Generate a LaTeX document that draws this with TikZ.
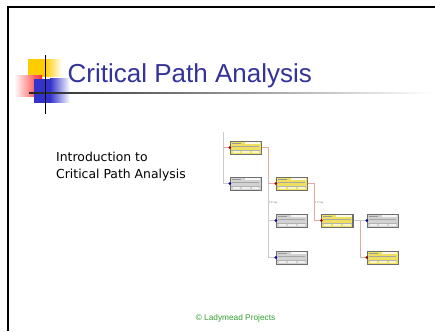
\documentclass[tikz,border=0pt]{standalone}
\usepackage{fontspec}
\setmainfont{DejaVu Sans}
\newfontfamily\titlefont{Liberation Sans}
\newfontfamily\footfont{Liberation Sans}
\definecolor{titleblue}{HTML}{333399}
\definecolor{logoyellow}{HTML}{FFCC00}
\definecolor{logored}{HTML}{FF2A2A}
\definecolor{logoblue}{HTML}{3333CC}
\definecolor{footgreen}{HTML}{33A033}
\definecolor{critfill}{HTML}{F0E060}
\definecolor{normfill}{HTML}{D2D2D2}
\definecolor{critline}{HTML}{E3A9A4}
\definecolor{normline}{HTML}{C9C9CF}
\definecolor{shadowgray}{HTML}{6E6E6E}
\tikzset{
  taskbox/.style={rectangle, minimum width=31pt, minimum height=13pt, inner sep=0pt, draw=shadowgray, line width=0.5pt},
  critbox/.style={taskbox, fill=critfill},
  normbox/.style={taskbox, fill=normfill},
  critlink/.style={draw=critline, line width=0.7pt},
  normlink/.style={draw=normline, line width=0.7pt},
  lagtext/.style={font=\fontsize{2.6}{3}\selectfont, text=gray, inner sep=0pt}
}
\newcommand\taskdetail[2]{%
  \fill[shadowgray] ([xshift=1pt,yshift=-1pt]#1.south west) rectangle ([xshift=1pt]#1.south east);
  \fill[shadowgray] ([xshift=0pt]#1.north east) rectangle ([xshift=1pt,yshift=-1pt]#1.south east);
  \fill[white!85!#2] ([xshift=15pt,yshift=-1.2pt]#1.north west) rectangle ([xshift=-1.2pt,yshift=-3.6pt]#1.north east);
  \draw[gray!80, line width=0.6pt] ([xshift=2pt,yshift=-2.4pt]#1.north west) -- ([xshift=11pt,yshift=-2.4pt]#1.north west);
  \draw[gray!70, line width=0.5pt] ([xshift=2pt,yshift=-5.6pt]#1.north west) -- ([xshift=-2pt,yshift=-5.6pt]#1.north east);
  \draw[gray!60, line width=0.4pt] ([xshift=1pt,yshift=4.5pt]#1.south west) -- ([xshift=-1pt,yshift=4.5pt]#1.south east);
  \fill[white!70!#2] ([xshift=3pt,yshift=1.3pt]#1.south west) rectangle ([xshift=10pt,yshift=3.7pt]#1.south west);
  \fill[white!70!#2] ([xshift=12pt,yshift=1.3pt]#1.south west) rectangle ([xshift=20pt,yshift=3.7pt]#1.south west);
  \fill[white!70!#2] ([xshift=22pt,yshift=1.3pt]#1.south west) rectangle ([xshift=-2pt,yshift=3.7pt]#1.south east);
}
\begin{document}
\begin{tikzpicture}[x=1pt,y=-1pt]
\useasboundingbox (0,0) rectangle (435,331);
\fill[white] (0,0) rectangle (435,331);
% slide border
\draw[black, line width=2pt] (7.5,331) -- (7.5,6.7) -- (435,6.7);
% logo
\shade[left color=logoyellow, right color=white, middle color=logoyellow] (28,60) rectangle (62,77);
\fill[logoyellow] (28,60) rectangle (46,77);
\shade[left color=white, right color=logored] (14,76) rectangle (42,97);
\fill[logoblue] (34,79) rectangle (50,103);
\shade[left color=logoblue, right color=white] (50,79) rectangle (70,103);
\shade[left color=black!85, right color=white] (29,92.3) rectangle (432,93.8);
\draw[black, line width=1.5pt] (45.5,55) -- (45.5,114);
% title
\node[anchor=base west, inner sep=0pt, text=titleblue, font=\titlefont\fontsize{26}{30}\selectfont] (title) at (67.5,82.7) {Critical Path Analysis};
% body text
\node[anchor=base west, inner sep=0pt, align=left, font=\fontsize{12.4}{17}\selectfont] (intro) at (56,178.5) {Introduction to\\Critical Path Analysis};
% footer
\node[anchor=base, inner sep=0pt, text=footgreen, font=\footfont\fontsize{8.3}{10}\selectfont] (footer) at (235.5,320.5) {© Ladymead Projects};
% network diagram
\node[critbox] (A) at (245.5,147.5) {};
\node[normbox] (B) at (245.5,183.5) {};
\node[critbox] (C) at (291.5,183.5) {};
\node[normbox] (D) at (291.5,220.5) {};
\node[critbox] (E) at (337,220.5) {};
\node[normbox] (F) at (382.5,220.5) {};
\node[normbox] (G) at (291.5,257.5) {};
\node[critbox] (H) at (382.5,257.5) {};
\coordinate (start) at (223,132);
\coordinate (ja) at (268,147.5);
\coordinate (jc) at (314,183.5);
\coordinate (je) at (360,220.5);
% links
\draw[normlink] (start) |- (B.west);
\draw[critlink] (start |- A.west) -- (A.west);
\draw[normlink] (ja) |- (G.west);
\draw[normlink] (ja |- D.west) -- (D.west);
\draw[critlink] (A.east) -- (ja) |- (C.west);
\draw[critlink] (C.east) -- (jc) |- (E.west);
\draw[normlink] (E.east) -- (F.west);
\draw[critlink] (je) |- (H.west);
\node[lagtext, anchor=west] (lag1) at (269,203) {1d lag};
\node[lagtext, anchor=west] (lag2) at (315,203) {1d lag};
\foreach \n in {A,C,E,H} {\taskdetail{\n}{critfill}}
\foreach \n in {B,D,F,G} {\taskdetail{\n}{normfill}}
\foreach \n in {A,C,E,H} {\fill[red!60!black] (\n.west) circle (1.5pt);}
\foreach \n in {B,D,F,G} {\fill[blue!60!black] (\n.west) circle (1.5pt);}
\end{tikzpicture}
\end{document}
